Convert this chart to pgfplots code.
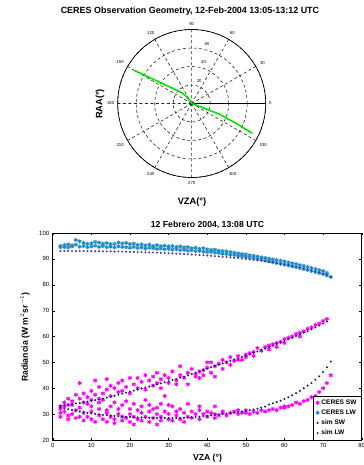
\documentclass[border=0pt]{standalone}
\usepackage{fontspec}
\setmainfont{Liberation Sans}
\usepackage{pgfplots}
\pgfplotsset{compat=1.18}
\usepgfplotslibrary{polar}
\definecolor{cmag}{RGB}{255,0,255}
\definecolor{clw}{RGB}{30,140,200}
\definecolor{csim}{RGB}{25,20,130}
\definecolor{csimlw}{RGB}{70,50,190}
\definecolor{cgreen}{RGB}{0,230,0}
\begin{document}
\begin{tikzpicture}
\useasboundingbox (0,0) rectangle (364bp,465bp);
% ---------------- polar plot ----------------
\begin{polaraxis}[
  at={(191.7bp,361.5bp)}, anchor=center,
  width=148bp, height=148bp, scale only axis,
  xmin=0, xmax=360, ymin=0, ymax=80,
  xtick={0,30,...,330}, ytick={20,40,60,80},
  xticklabel={\pgfmathprintnumber{\tick}},
  yticklabel=\empty,
  /pgf/number format/assume math mode=true,
  xticklabel style={font=\fontsize{4.3}{4.3}\selectfont},
  grid=major,
  major grid style={black!85, line width=0.6pt, dash pattern=on 3pt off 2.5pt},
  axis line style={black, line width=0.7pt},
  major tick length=0pt,
]
\addplot[cgreen, line width=1.6pt] coordinates {
 (150,71.7) (146.8,43.6) (132.4,16) (127.7,10) (125.5,4.3) (116.6,1.1) (0,0)
 (341.6,3.2) (339.5,13.4) (338.8,32.7) (335.9,52.6) (333.8,73.1)
};
\node[font=\fontsize{4.3}{4.3}\selectfont] at (axis cs:72,26) {20};
\node[font=\fontsize{4.3}{4.3}\selectfont] at (axis cs:74,46.5) {40};
\node[font=\fontsize{4.3}{4.3}\selectfont] at (axis cs:75.5,66) {60};
\node[font=\fontsize{4.3}{4.3}\selectfont] at (axis cs:77.5,86) {80};
\end{polaraxis}
\node[font=\fontsize{9}{10}\selectfont\bfseries] at (190bp,454bp) {CERES Observation Geometry, 12-Feb-2004 13:05-13:12 UTC};
\node[font=\fontsize{9.3}{10}\selectfont\bfseries, rotate=90] at (100bp,361bp) {RAA(°)};
\node[font=\fontsize{9.3}{10}\selectfont\bfseries] at (192bp,263bp) {VZA(°)};
% ---------------- scatter plot ----------------
\begin{axis}[
  at={(52.7bp,25bp)}, anchor=south west,
  width=309bp, height=207bp, scale only axis,
  xmin=0, xmax=80, ymin=20, ymax=100,
  xtick={0,10,...,80}, ytick={20,30,...,100},
  /pgf/number format/assume math mode=true,
  ticklabel style={font=\fontsize{6}{6}\selectfont},
  major tick length=2.5pt,
  axis line style={black, line width=0.5pt},
  tick style={black},
  legend style={at={(1,0)}, anchor=south east, draw=black, line width=0.5pt,
    font=\fontsize{6.6}{7.5}\selectfont\bfseries, inner xsep=3pt, inner ysep=1.5pt, row sep=0pt,
    cells={anchor=west}},
]
\addplot[only marks, mark=asterisk, mark size=2.1pt, cmag, line width=1pt] coordinates {
(2,33)(2,32)(3,34.5)(4,36)(4,33.5)(5,35)(6,37.5)(7,42)(7,36)(8,34.5)(8,38)(9,36.5)(10,39)(10,35.5)(11,37.5)(11,43)(12,40.5)(12,36)(13,38)(14,43.5)(14,39.5)(15,37)(15,41)(16,40)(17,42)(17,38.5)(18,43)(18,39)(19,40.5)(20,44)(20,38)(21,41.5)(22,44)(22,40)(23,42.5)(24,45)(24,39.5)(25,43)(26,41)(26,44.5)(27,46)(27,42)(28,43.5)(28,40)(29,45)(30,44)(30,42)(31,46.5)(32,43)(32,41.5)(33,48.5)(33,45)(34,44)(35,46)(35,41.5)(36,47.5)(37,44.5)(37,45.5)(38,46.5)(38,44)(39,47)(39,45)(40,50)(40,48)(41,46)(41,50)(42,48.5)(42,44.5)(43,49.5)(44,51)(44,47.5)(45,50)(46,52)(46,49)(47,50.5)(48,52.5)(48,51)(49,51)(50,53)(50,52)(51,53.5)(52,54)(52,52.5)(53,55.5)(54,54.5)(55,56)(56,56.5)(56,55)(57,57)(58,57.5)(58,56)(59,58)(60,59)(60,57.5)(61,59.5)(62,60)(63,61)(64,61.5)(64,60)(65,62)(66,63)(67,63.5)(68,64.5)(69,65)(70,66)(71,66.8)
(2,30.5)(2,29)(3,31)(4,29.5)(4,28)(5,30)(6,28.5)(6,31.5)(7,29)(8,27.5)(8,30.5)(9,29)(10,28)(10,31)(11,27)(12,29.5)(12,32)(13,28)(14,27)(14,30.5)(15,29)(16,28)(16,26.5)(17,30)(18,27.5)(18,29)(19,28.5)(20,27)(20,30)(21,26)(21,29)(22,28)(23,27.5)(23,30.5)(24,29)(25,27)(25,31)(26,28.5)(27,26)(27,30)(28,29)(28,27.5)(29,31)(30,28)(30,30)(31,27.5)(32,29.5)(32,31)(33,28)(34,30.5)(34,27)(35,29)(36,31)(36,28.5)(37,30)(38,28)(38,31.5)(39,30)(40,29)(40,31)(41,30.5)(42,28.5)(42,30)(43,29.5)(44,30.5)(44,31)(45,29.5)(46,30.5)(47,31)(48,30)(48,31.5)(49,30.5)(50,30.5)(50,31.5)(51,30)(52,31)(53,30.5)(54,31.5)(55,31)(56,31.5)(57,32)(58,31.5)(59,32.5)(60,32.5)(60,33)(61,33)(62,33.5)(63,34.5)(64,34)(65,35)(66,35.5)(67,36.5)(68,37)(69,38.5)(70,40)(71,42)(72,45)
(3,33)(5,33.5)(7,32.5)(9,34)(10,33)(12,34.5)(13,35.5)(15,33)(16,34.5)(18,33.5)(19,35)(20,32)(21,34)(23,33)(24,35.5)(25,33.5)(26,32)(28,34)(29,37)(31,33)(33,32)(35,34)(14,31.5)(17,32)(22,31.5)(27,32.5)(30,33.5)(38,33)(42,33)
};
\addlegendentry{CERES SW}
\addplot[only marks, mark=asterisk, mark size=2pt, clw, line width=1pt] coordinates {
(2,95.0)(2,94.5)(3,95.3)(3,94.6)(4,95.6)(4,94.4)(5,95.2)(5,94.8)(6,97.3)(6,95.5)(7,96.8)(7,94.7)(8,96.2)(8,95.0)(9,95.8)(9,94.5)(10,96.0)(10,94.8)(11,96.6)(11,95.1)(12,96.3)(12,94.6)(13,95.9)(13,94.9)(14,96.1)(14,94.5)(15,95.7)(15,94.7)(16,95.8)(16,94.4)(17,96.3)(17,94.8)(18,96.0)(18,94.6)(19,96.2)(19,94.5)(20,95.7)(20,94.3)(21,95.9)(21,94.6)(22,95.4)(22,94.2)(23,95.6)(23,94.4)(24,95.2)(24,94.0)(25,95.5)(25,94.3)(26,95.0)(26,94.1)(27,95.3)(27,93.9)(28,94.9)(28,94.0)(29,95.1)(29,93.7)(30,94.8)(30,93.9)(31,94.9)(31,93.6)(32,94.6)(32,93.7)(33,94.8)(33,93.4)(34,94.4)(34,93.5)(35,94.5)(35,93.2)(36,94.2)(36,93.3)(37,94.3)(37,93.0)(38,93.9)(38,93.1)(39,94.1)(39,92.8)(40,93.7)(40,92.6)(41,93.5)(41,92.7)(42,93.6)(42,92.4)(43,93.2)(43,92.3)(44,93.0)(44,92.0)(45,92.9)(45,91.9)(46,92.6)(46,91.6)(47,92.4)(47,91.5)(48,92.1)(48,91.2)(49,91.9)(49,91.0)(50,91.7)(50,90.7)(51,91.4)(51,90.5)(52,91.2)(52,90.2)(53,90.9)(53,89.9)(54,90.6)(54,89.7)(55,90.4)(55,89.3)(56,90.1)(56,89.0)(57,89.8)(57,88.7)(58,89.5)(58,88.4)(59,89.3)(59,88.1)(60,89.0)(60,87.8)(61,88.6)(61,87.5)(62,88.3)(62,87.1)(63,88.0)(63,86.8)(64,87.6)(64,86.4)(65,87.3)(65,86.0)(66,86.9)(66,85.7)(67,86.5)(67,85.3)(68,86.1)(68,84.9)(69,85.7)(69,84.5)(70,85.3)(70,84.1)(71,84.6)(71,83.6)(72,83.0)
};
\addlegendentry{CERES LW}
\addplot[only marks, mark=*, mark size=0.8pt, csim] coordinates {
(2,33.3)(3,33.5)(4,33.7)(5,33.9)(6,34.1)(7,34.3)(8,34.6)(9,34.8)(10,35.1)(11,35.4)(12,35.7)(13,36.0)(14,36.4)(15,36.7)(16,37.1)(17,37.5)(18,37.9)(19,38.3)(20,38.7)(21,39.1)(22,39.5)(23,39.9)(24,40.3)(25,40.7)(26,41.1)(27,41.5)(28,41.9)(29,42.3)(30,42.7)(31,43.2)(32,43.6)(33,44.1)(34,44.5)(35,45.0)(36,45.5)(37,46.0)(38,46.5)(39,47.0)(40,47.6)(41,48.1)(42,48.6)(43,49.1)(44,49.6)(45,50.1)(46,50.6)(47,51.1)(48,51.6)(49,52.1)(50,52.6)(51,53.1)(52,53.7)(53,54.2)(54,54.8)(55,55.3)(56,55.9)(57,56.5)(58,57.1)(59,57.7)(60,58.3)(61,58.9)(62,59.5)(63,60.2)(64,60.8)(65,61.5)(66,62.1)(67,62.8)(68,63.5)(69,64.2)(70,65.0)(71,65.8)
(2,32.5)(3,32.2)(4,31.9)(5,31.6)(6,31.3)(7,31.0)(8,30.8)(9,30.5)(10,30.3)(11,30.1)(12,29.9)(13,29.7)(14,29.6)(15,29.4)(16,29.3)(17,29.2)(18,29.1)(19,29.0)(20,28.9)(21,28.8)(22,28.7)(23,28.7)(24,28.6)(25,28.6)(26,28.5)(27,28.5)(28,28.5)(29,28.5)(30,28.5)(31,28.5)(32,28.5)(33,28.6)(34,28.6)(35,28.7)(36,28.8)(37,28.9)(38,29.0)(39,29.2)(40,29.3)(41,29.5)(42,29.6)(43,29.8)(44,30.0)(45,30.2)(46,30.4)(47,30.6)(48,30.8)(49,31.0)(50,31.2)(51,31.5)(52,31.8)(53,32.1)(54,32.5)(55,32.9)(56,33.7)(57,34.2)(58,34.7)(59,35.2)(60,35.8)(61,36.5)(62,37.3)(63,38.1)(64,39.0)(65,40.0)(66,41.0)(67,42.0)(68,43.3)(69,44.6)(70,46.2)(71,48.1)(72,50.3)
};
\addlegendentry{sim SW}
\addplot[only marks, mark=*, mark size=0.8pt, csimlw] coordinates {
(2,93.0)(3,93.0)(4,93.0)(5,93.0)(6,93.0)(7,93.0)(8,93.0)(9,93.0)(10,93.0)(11,92.95)(12,92.95)(13,92.9)(14,92.9)(15,92.9)(16,92.85)(17,92.85)(18,92.8)(19,92.8)(20,92.75)(21,92.7)(22,92.65)(23,92.6)(24,92.55)(25,92.5)(26,92.45)(27,92.4)(28,92.35)(29,92.25)(30,92.2)(31,92.1)(32,92.0)(33,91.95)(34,91.9)(35,91.8)(36,91.7)(37,91.6)(38,91.5)(39,91.4)(40,91.3)(41,91.2)(42,91.05)(43,90.95)(44,90.8)(45,90.7)(46,90.55)(47,90.4)(48,90.3)(49,90.15)(50,90.0)(51,89.8)(52,89.6)(53,89.45)(54,89.3)(55,89.1)(56,88.9)(57,88.65)(58,88.4)(59,88.15)(60,87.9)(61,87.6)(62,87.3)(63,87.0)(64,86.7)(65,86.4)(66,86.0)(67,85.6)(68,85.2)(69,84.8)(70,84.3)(71,83.7)(72,83.1)
};
\addlegendentry{sim LW}
\end{axis}
\node[font=\fontsize{8.7}{10}\selectfont\bfseries] at (207.5bp,240bp) {12 Febrero 2004, 13:08 UTC};
\node[font=\fontsize{8.7}{10}\selectfont\bfseries] at (207.5bp,7bp) {VZA (°)};
\node[font=\fontsize{8.7}{10}\selectfont\bfseries, rotate=90] at (25bp,128bp) {Radiancia (W m$^{2}$sr$^{-1}$)};
\end{tikzpicture}
\end{document}
